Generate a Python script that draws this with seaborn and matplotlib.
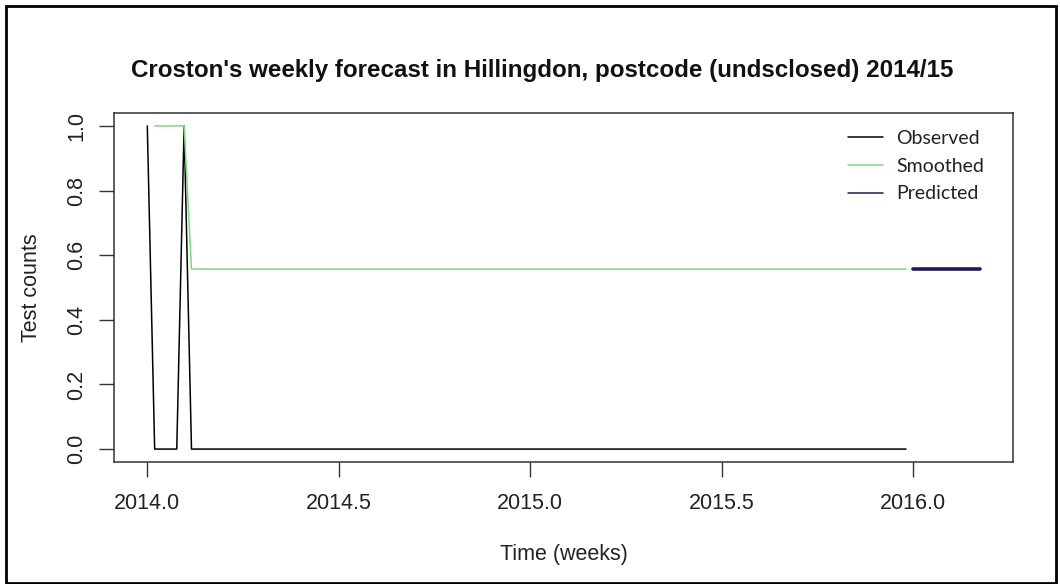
import numpy as np
import pandas as pd
import matplotlib
matplotlib.use("Agg")
import matplotlib.pyplot as plt
from matplotlib.patches import Rectangle
import seaborn as sns

# Weekly series (frequency 52) starting at 2014, week 1
start_year = 2014
freq = 52

observed = ([1, 0, 0, 0, 0, 1, 0, 0, 0, 0, 0, 0, 0]
            + [0] * 91)
smoothed = ([np.nan, 1.0, 1.0, 1.0, 1.0, 1.0]
            + [0.557] * 98)
predicted = [0.557] * 10

x_ticks = [2014.0, 2014.5, 2015.0, 2015.5, 2016.0]
y_ticks = [0.0, 0.2, 0.4, 0.6, 0.8, 1.0]

title = "Croston's weekly forecast in Hillingdon, postcode (undsclosed) 2014/15"
legend_labels = ["Observed", "Smoothed", "Predicted"]

n_obs = len(observed)
t_obs = start_year + np.arange(n_obs) / freq
t_pred = start_year + (n_obs + np.arange(len(predicted))) / freq

df_obs = pd.DataFrame({"time": t_obs, "value": observed})
df_smooth = pd.DataFrame({"time": t_obs, "value": smoothed})
df_pred = pd.DataFrame({"time": t_pred, "value": predicted})

sns.set_style("white")
plt.rcParams["font.family"] = ["Liberation Sans", "DejaVu Sans"]

fig = plt.figure(figsize=(10.6, 5.84), dpi=100)
ax = fig.add_axes([114 / 1060, 1 - 462 / 584, (1013 - 114) / 1060, (462 - 113) / 584])

c_obs = "#000000"
c_smooth = "#7fd87f"
c_pred = "#1b1b52"

sns.lineplot(data=df_obs, x="time", y="value", ax=ax, color=c_obs, lw=1.1)
sns.lineplot(data=df_smooth, x="time", y="value", ax=ax, color=c_smooth, lw=1.1)
sns.lineplot(data=df_pred, x="time", y="value", ax=ax, color=c_pred, lw=2.6,
             solid_capstyle="round")

t_all_min = t_obs.min()
t_all_max = t_pred.max()
pad = 0.04 * (t_all_max - t_all_min)
ax.set_xlim(t_all_min - pad, t_all_max + pad)
ax.set_ylim(-0.04, 1.04)

ax.set_xticks(x_ticks)
ax.set_xticklabels([f"{v:.1f}" for v in x_ticks], fontsize=15.5, color="#222222")
ax.set_yticks(y_ticks)
ax.set_yticklabels([f"{v:.1f}" for v in y_ticks], fontsize=15.5, color="#222222",
                   rotation=90, va="center")
ax.tick_params(axis="both", direction="out", length=11, width=1, color="#333333",
               left=True, bottom=True)
ax.tick_params(axis="x", pad=11)
ax.tick_params(axis="y", pad=8)

for s in ax.spines.values():
    s.set_visible(True)
    s.set_color("#333333")
    s.set_linewidth(1.1)

ax.set_xlabel("Time (weeks)", fontsize=15.5, color="#222222", labelpad=22)
ax.set_ylabel("Test counts", fontsize=15.5, color="#222222", labelpad=18)

fig.text(542 / 1060, 1 - 70 / 584, title, ha="center", va="center",
         fontsize=17.4, fontweight="bold", color="#111111")

# Borderless legend in the upper right corner
handles = [plt.Line2D([], [], color=c, lw=1.1) for c in (c_obs, c_smooth, c_pred)]
leg = fig.legend(handles, legend_labels, loc="upper left", frameon=False,
                 bbox_to_anchor=(848 / 1060, 1 - 130 / 584), borderpad=0,
                 borderaxespad=0, handlelength=1.8, handletextpad=0.7,
                 labelspacing=0.55,
                 prop={"family": ["Lato", "DejaVu Sans"], "size": 14})
for txt in leg.get_texts():
    txt.set_color("#222222")

# Outer frame around the figure
fig.patches.append(Rectangle((6 / 1060, 1 / 584), 1050 / 1060, 577 / 584,
                             transform=fig.transFigure, fill=False,
                             edgecolor="black", lw=2))

fig.savefig("out.png", dpi=100, facecolor="white")
